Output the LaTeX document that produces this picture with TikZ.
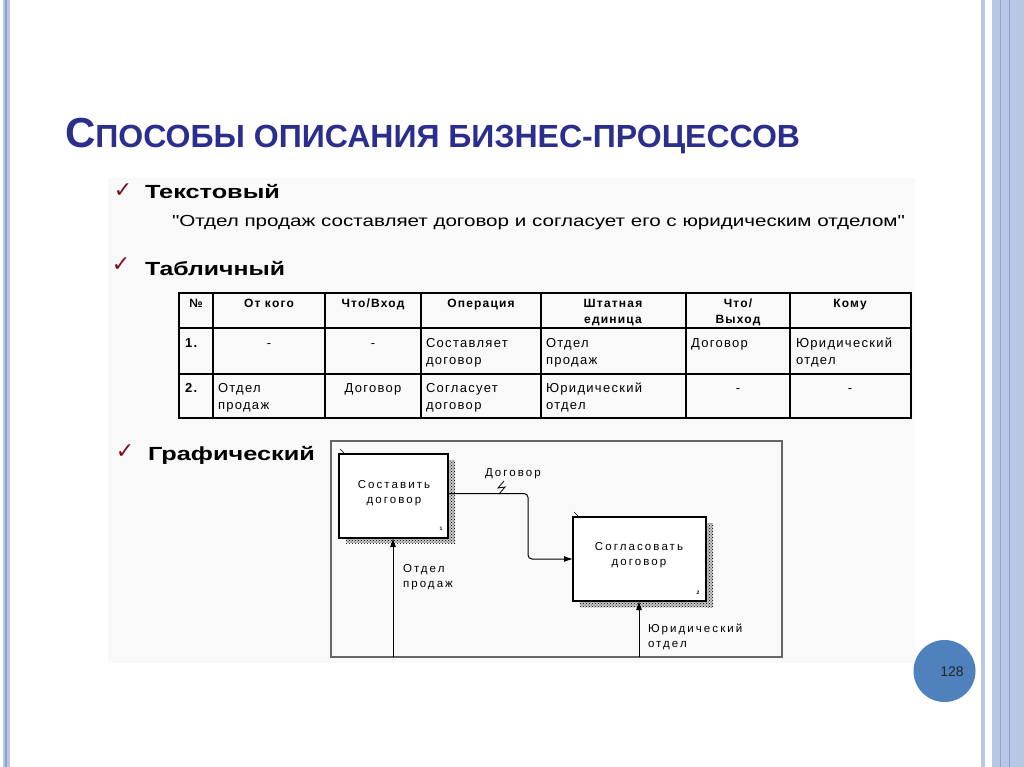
\documentclass[tikz,border=0pt]{standalone}
\usepackage{fontspec}
\usepackage{graphicx}
\setmainfont{Liberation Sans}
\newfontfamily\dejavu{DejaVu Sans}
\newfontfamily\qfont[Ligatures=TeXOff]{Liberation Sans}
\newfontfamily\tabfont[LetterSpace=10]{Liberation Sans}
\newfontfamily\idffont[LetterSpace=18]{Liberation Sans}
\usetikzlibrary{patterns,arrows.meta}
\definecolor{titleblue}{HTML}{2B2E8C}
\definecolor{stripe}{HTML}{B8C8E4}
\definecolor{stripedark}{HTML}{8CA4CF}
\definecolor{pagecirc}{HTML}{4F81BD}
\definecolor{checkred}{HTML}{7A0F1E}
\definecolor{pastebg}{HTML}{F9F9F9}
\newcommand\hfit[2]{\resizebox{#1}{\height}{#2}}
\begin{document}
\begin{tikzpicture}[x=1pt,y=-1pt,
  txt/.style={inner sep=0pt, outer sep=0pt},
  check/.style={txt, text=checkred, font=\dejavu\fontsize{22}{22}\selectfont},
  head/.style={txt, anchor=base west, font=\fontsize{19}{19}\selectfont\bfseries},
  th/.style={txt, anchor=base, font=\tabfont\fontsize{12}{16}\selectfont\bfseries, align=center},
  td/.style={txt, anchor=base west, font=\tabfont\fontsize{13}{17}\selectfont, align=left},
  tdc/.style={td, anchor=base, align=center},
  grid/.style={line width=1.3pt},
  proc/.style={draw, line width=1.6pt, fill=white, inner sep=0pt, outer sep=0pt, anchor=north west},
  shadowh/.style={fill=black!22, postaction={pattern=crosshatch dots, pattern color=black}},
  idf/.style={txt, anchor=base, font=\idffont\fontsize{11.5}{15}\selectfont, align=center},
  idl/.style={txt, anchor=base west, font=\idffont\fontsize{11.5}{15}\selectfont, align=left},
  flow/.style={line width=1pt, -{Latex[length=9pt,width=6pt]}},
]
\useasboundingbox (0,0) rectangle (1024,767);
\fill[white] (0,0) rectangle (1024,767);
% side stripes
\fill[stripe] (3,0) rectangle (10,767);
\fill[stripedark] (5,0) rectangle (6.5,767);
\fill[stripe] (981,0) rectangle (985,767);
\fill[stripe] (992,0) rectangle (1024,767);
\draw[stripedark, line width=1pt] (1000,0) -- (1000,767);
\draw[stripedark, line width=0.8pt] (1009,0) -- (1009,767);
% pasted image background
\fill[pastebg] (108,178) rectangle (915,663);
% title
\node[txt, anchor=base west, text=titleblue, font=\bfseries] (title) at (65,148)
  {\hfit{735pt}{\fontsize{42}{42}\selectfont С\fontsize{32}{32}\selectfont ПОСОБЫ ОПИСАНИЯ БИЗНЕС-ПРОЦЕССОВ}};
% headings
\node[check] (ck1) at (123,191) {✓};
\node[head] (h1) at (145,199) {\hfit{135pt}{Текстовый}};
\node[txt, anchor=base west, font=\qfont\fontsize{16}{16}\selectfont] (quote) at (172,226)
  {\hfit{733pt}{"Отдел продаж составляет договор и согласует его с юридическим отделом"}};
\node[check] (ck2) at (121,265) {✓};
\node[head] (h2) at (145,275) {\hfit{140pt}{Табличный}};
% table
\draw[grid] (179,293) rectangle (911,418);
\draw[grid] (179,328) -- (911,328);
\draw[grid] (179,374) -- (911,374);
\foreach \xx in {213,325,421,541,686,790} \draw[grid] (\xx,293) -- (\xx,418);
\node[th] (t00) at (196,307) {№};
\node[th] (t01) at (269,307) {От кого};
\node[th] (t02) at (373,307) {Что/Вход};
\node[th] (t03) at (481,307) {Операция};
\node[th] (t04) at (613,323) {Штатная\\единица};
\node[th] (t05) at (738,323) {Что/\\Выход};
\node[th] (t06) at (850,307) {Кому};
\node[td, font=\tabfont\fontsize{13}{17}\selectfont\bfseries] (t10) at (185,347) {1.};
\node[tdc] (t11) at (269,347) {-};
\node[tdc] (t12) at (373,347) {-};
\node[td] (t13) at (426,364) {Составляет\\договор};
\node[td] (t14) at (546,364) {Отдел\\продаж};
\node[td] (t15) at (691,347) {Договор};
\node[td] (t16) at (796,364) {Юридический\\отдел};
\node[td, font=\tabfont\fontsize{13}{17}\selectfont\bfseries] (t20) at (185,392) {2.};
\node[td] (t21) at (218,409) {Отдел\\продаж};
\node[tdc] (t22) at (373,392) {Договор};
\node[td] (t23) at (426,409) {Согласует\\договор};
\node[td] (t24) at (546,409) {Юридический\\отдел};
\node[tdc] (t25) at (738,392) {-};
\node[tdc] (t26) at (850,392) {-};
% graphical
\node[check] (ck3) at (125,452) {✓};
\node[head] (h3) at (148,460) {\hfit{167pt}{Графический}};
\draw[line width=1.5pt, draw=black!60] (331,441) rectangle (782,657);
\fill[shadowh] (449,460) rectangle (455,543);
\fill[shadowh] (346,538) rectangle (455,543);
\fill[shadowh] (706,523) rectangle (713,607);
\fill[shadowh] (580,601) rectangle (713,607);
\node[proc, minimum width=109pt, minimum height=84pt] (b1) at (339,454) {};
\node[proc, minimum width=133pt, minimum height=84pt] (b2) at (573,517) {};
\draw[line width=0.6pt] ([shift={(1,-5)}]b1.north west) -- ([shift={(5,-1)}]b1.north west);
\draw[line width=0.6pt] ([shift={(1,-5)}]b2.north west) -- ([shift={(5,-1)}]b2.north west);
\node[idf] (b1t) at (394,503) {Составить\\договор};
\node[idf] (b2t) at (639,565) {Согласовать\\договор};
\node[txt, font=\fontsize{5}{5}\selectfont\bfseries] (n1) at (441,529) {1};
\node[txt, font=\fontsize{5}{5}\selectfont\bfseries] (n2) at (698,593) {2};
\coordinate (k1) at (528,493.5);
\coordinate (k2) at (528,559);
\draw[flow, rounded corners=4pt] (b1.east |- k1) -- (k1) -- (k2) -- (b2.west |- k2);
\draw[line width=0.8pt] (504,481) -- (498,488) -- (505,487) -- (499,494);
\node[idl] (lab1) at (485,476) {Договор};
\coordinate (c1) at (393,657);
\coordinate (c2) at (639,657);
\draw[flow] (c1) -- (c1 |- b1.south);
\draw[flow] (c2) -- (c2 |- b2.south);
\node[idl] (lab2) at (403,587) {Отдел\\продаж};
\node[idl] (lab3) at (648,647) {Юридический\\отдел};
% page number
\node[circle, fill=pagecirc, minimum size=62pt, inner sep=0pt] (pg) at (944.5,671) {};
\node[txt, font=\fontsize{14}{14}\selectfont, text=black!85] (pgn) at (952,672) {128};
\end{tikzpicture}
\end{document}
